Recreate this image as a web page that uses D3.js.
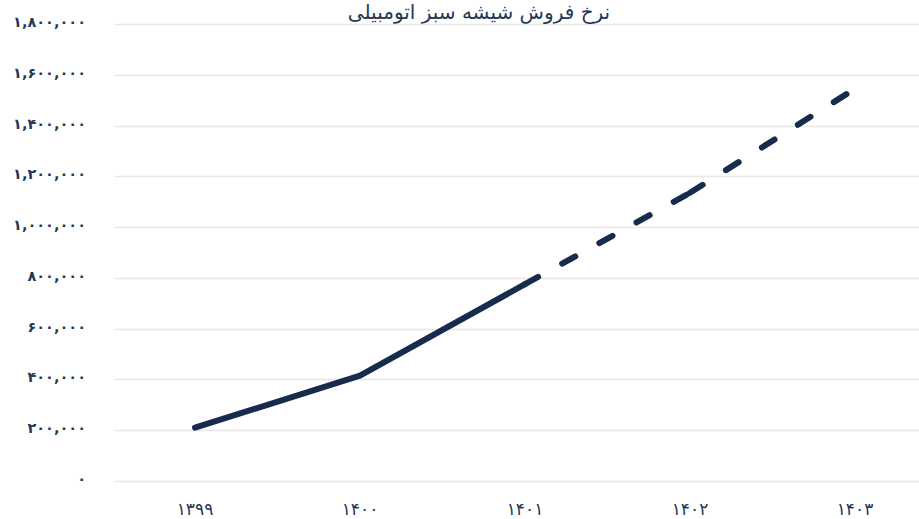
<!DOCTYPE html>
<html>
<head>
<meta charset="utf-8">
<script src="https://cdn.jsdelivr.net/npm/d3@7"></script>
<style>
  html, body { margin: 0; padding: 0; background: #ffffff; }
  svg { display: block; }
  text { font-family: "DejaVu Sans", "Noto Sans", sans-serif; }
</style>
</head>
<body>
<svg id="chart" width="919" height="519"></svg>
<script>
const title = "نرخ فروش شیشه سبز اتومبیلی";
const years = ["۱۳۹۹", "۱۴۰۰", "۱۴۰۱", "۱۴۰۲", "۱۴۰۳"];
const values = [210000, 415000, 775000, 1135000, 1545000];
const actualCount = 3; // first three points solid, rest forecast (dashed)
const yTickValues = [0, 200000, 400000, 600000, 800000, 1000000, 1200000, 1400000, 1600000, 1800000];
const yTickLabels = ["۰", "۲۰۰,۰۰۰", "۴۰۰,۰۰۰", "۶۰۰,۰۰۰", "۸۰۰,۰۰۰", "۱,۰۰۰,۰۰۰", "۱,۲۰۰,۰۰۰", "۱,۴۰۰,۰۰۰", "۱,۶۰۰,۰۰۰", "۱,۸۰۰,۰۰۰"];

const svg = d3.select("#chart");
const lineColor = "#172b4d";
const textColor = "#253858";

const x = d3.scalePoint().domain(years).range([112.5, 937.5]).padding(0.5);
const y = d3.scaleLinear().domain([0, 1800000]).range([481, 24]);

// gridlines
svg.append("g").selectAll("line").data(yTickValues).join("line")
  .attr("x1", 115).attr("x2", 919)
  .attr("y1", d => Math.round(y(d)) + 0.5).attr("y2", d => Math.round(y(d)) + 0.5)
  .attr("stroke", "#e6e6e6").attr("stroke-width", 1.5);

// y labels
svg.append("g").selectAll("text").data(yTickValues).join("text")
  .attr("x", 86).attr("y", d => y(d) - 1)
  .attr("text-anchor", "end").attr("dominant-baseline", "middle")
  .attr("fill", textColor).attr("font-size", 14.5).attr("font-weight", "bold")
  .text((d, i) => yTickLabels[i]);

// x labels
svg.append("g").selectAll("text").data(years).join("text")
  .attr("x", d => x(d)).attr("y", 510)
  .attr("text-anchor", "middle").attr("dominant-baseline", "middle")
  .attr("fill", textColor).attr("font-size", 17)
  .text(d => d);

const pts = years.map((yr, i) => ({ yr, v: values[i] }));
const line = d3.line().x(d => x(d.yr)).y(d => y(d.v));

// actual (solid)
svg.append("path").datum(pts.slice(0, actualCount))
  .attr("d", line).attr("fill", "none")
  .attr("stroke", lineColor).attr("stroke-width", 6)
  .attr("stroke-linecap", "round").attr("stroke-linejoin", "round");

// forecast (dashed), each segment stroked separately so the pattern restarts at every point
const fc = pts.slice(actualCount - 1);
const segs = d3.pairs(fc);
svg.append("g").selectAll("path").data(segs).join("path")
  .attr("d", d => line(d)).attr("fill", "none")
  .attr("stroke", lineColor).attr("stroke-width", 6)
  .attr("stroke-dasharray", "15,27.5")
  .attr("stroke-linecap", "round").attr("stroke-linejoin", "round");

// title at the very top edge
svg.append("text")
  .attr("x", 479).attr("y", 18.5)
  .attr("text-anchor", "middle")
  .attr("fill", textColor).attr("font-size", 20)
  .attr("direction", "rtl")
  .text(title);
</script>
</body>
</html>
